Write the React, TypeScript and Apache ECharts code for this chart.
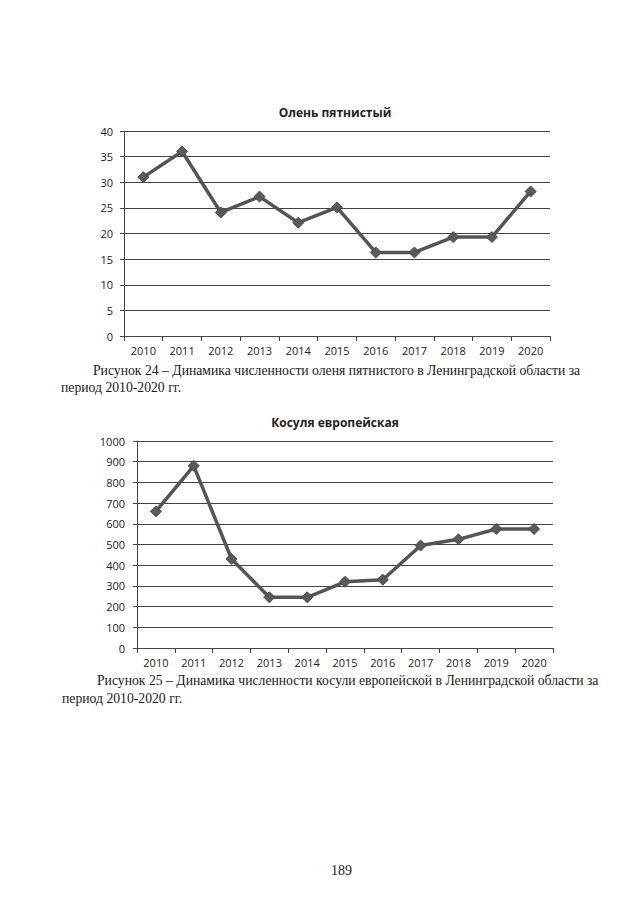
import React, { useEffect, useRef } from "react";
import * as echarts from "echarts";

const years = ["2010", "2011", "2012", "2013", "2014", "2015", "2016", "2017", "2018", "2019", "2020"];
const deerValues = [31, 36, 24.1, 27.2, 22.1, 25.1, 16.3, 16.3, 19.3, 19.3, 28.2];
const roeValues = [660, 880, 430, 245, 245, 320, 330, 495, 525, 575, 575];
const deerTitle = "Олень пятнистый";
const roeTitle = "Косуля европейская";
const caption1 = ["Рисунок 24 – Динамика численности оленя пятнистого в Ленинградской области за", "период 2010-2020 гг."];
const caption2 = ["Рисунок 25 – Динамика численности косули европейской в Ленинградской области за", "период 2010-2020 гг."];
const pageNumber = "189";

const LINE = "#555555";
const GRID = "#444444";
const SANS = "'Open Sans', 'Liberation Sans', sans-serif";
const SERIF = "'Liberation Serif', 'DejaVu Serif', serif";

export default function App() {
  const ref = useRef<HTMLDivElement>(null);
  useEffect(() => {
    if (!ref.current) return;
    const chart = echarts.init(ref.current, null, { renderer: "svg" });
    const xAxis = (gi: number) => ({
      type: "category",
      gridIndex: gi,
      data: years,
      boundaryGap: true,
      axisLine: { lineStyle: { color: GRID, width: 1 } },
      axisTick: { show: true, lineStyle: { color: GRID }, length: 5 },
      axisLabel: { color: "#222", fontFamily: SANS, fontSize: 11, margin: 9 },
    });
    const yAxis = (gi: number, max: number, interval: number, margin: number) => ({
      type: "value",
      gridIndex: gi,
      min: 0,
      max,
      interval,
      axisLine: { show: true, lineStyle: { color: GRID, width: 1 } },
      axisTick: { show: true, lineStyle: { color: GRID }, length: 4 },
      splitLine: { show: true, lineStyle: { color: GRID, width: 1 } },
      axisLabel: { color: "#222", fontFamily: SANS, fontSize: 11, margin, formatter: (v: number) => String(v) },
    });
    const series = (idx: number, data: number[]) => ({
      type: "line",
      xAxisIndex: idx,
      yAxisIndex: idx,
      data,
      symbol: "diamond",
      symbolSize: 11,
      lineStyle: { color: LINE, width: 3.5 },
      itemStyle: { color: "#5a5a5a", borderColor: "#4a4a4a", borderWidth: 1 },
    });
    const capText = (x: number, y: number, text: string) => ({
      type: "text",
      x,
      y,
      style: { text, fontFamily: SERIF, fontSize: 13.7, fill: "#1a1a1a", textVerticalAlign: "middle" },
    });
    chart.setOption({
      animation: false,
      backgroundColor: "#ffffff",
      title: [
        { text: deerTitle, left: 330, top: 101, textAlign: "center", textStyle: { fontFamily: SANS, fontSize: 12, fontWeight: "bold", color: "#222" } },
        { text: roeTitle, left: 330, top: 411, textAlign: "center", textStyle: { fontFamily: SANS, fontSize: 12, fontWeight: "bold", color: "#222" } },
      ],
      grid: [
        { left: 124, top: 131, right: 90, bottom: 569, containLabel: false },
        { left: 137, top: 441, right: 87, bottom: 257, containLabel: false },
      ],
      xAxis: [xAxis(0), xAxis(1)],
      yAxis: [yAxis(0, 40, 5, 11), yAxis(1, 1000, 100, 12)],
      series: [series(0, deerValues), series(1, roeValues)],
      graphic: [
        capText(93, 370, caption1[0]),
        capText(61, 387, caption1[1]),
        capText(97, 680, caption2[0]),
        capText(62, 698, caption2[1]),
        {
          type: "text",
          x: 331,
          y: 870,
          style: { text: pageNumber, fontFamily: SERIF, fontSize: 14, fill: "#1a1a1a", textVerticalAlign: "middle" },
        },
      ],
    });
    return () => chart.dispose();
  }, []);
  return <div ref={ref} style={{ position: "fixed", left: 0, top: 0, width: 640, height: 905 }} />;
}
